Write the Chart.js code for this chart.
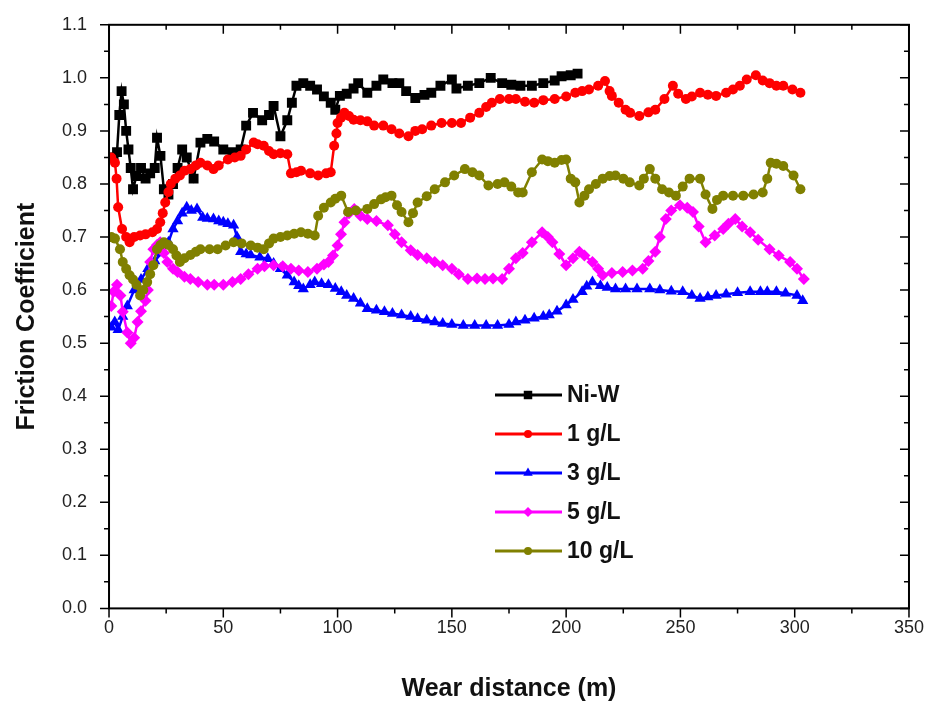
<!DOCTYPE html>
<html>
<head>
<meta charset="utf-8">
<script src="https://cdn.jsdelivr.net/npm/chart.js@4"></script>
<style>
  html, body { margin: 0; padding: 0; background: #fff; }
  #wrap { width: 925px; height: 702px; }
</style>
</head>
<body>
<div id="wrap"><canvas id="frictionChart" width="925" height="702"></canvas></div>
<script>
// series (wear distance in m, friction coefficient)
var niwX = [2,3.5,4.5,5.5,6.5,7.5,8.5,9.5,10.5,12,14,16,18,20,21,22.5,24,26,28,30,32,34,37,40,43,46,50,54,57.6,60,63,67,70,72,75,78,80,82,85,88,91,94,97,99,101,104,107,109,113,117,120,124,127,130,134,138,141,145,150,152,157,162,167,172,176,180,185,190,195,198,202,205];
var niwY = [0.85,0.86,0.93,0.975,0.95,0.90,0.865,0.83,0.79,0.815,0.83,0.81,0.82,0.83,0.887,0.853,0.79,0.78,0.80,0.83,0.865,0.85,0.81,0.878,0.885,0.88,0.865,0.86,0.865,0.91,0.934,0.92,0.93,0.947,0.89,0.92,0.953,0.985,0.99,0.985,0.978,0.965,0.953,0.94,0.966,0.97,0.98,0.99,0.972,0.985,0.997,0.99,0.99,0.975,0.962,0.968,0.972,0.985,0.997,0.98,0.985,0.99,1.0,0.99,0.987,0.985,0.985,0.99,0.995,1.003,1.005,1.008];

var g1X = [1,2.6,3.3,4,5.7,7.5,9,11,13.6,16,19,21,22.4,23.5,24.6,26,27,29,31,33,35.6,38,40,43,45.7,48,52,55,57.6,60,63.3,65,67.7,70,72,75,78,79.6,82,84,88,91.5,95,97,98.5,99.5,100,101.5,103,105,107,110,113,116,120,123.6,127,131,134,137,141,145.5,150,154,158,162,165,167.5,171,175,178,182,186,190,195,200,204,207,210,214,217,219,220,223,226,228,232,236,239,243,246.7,249,252.4,255,258.6,262,265.6,270,273,276,279,283,286,289,292,295,299,302.5];
var g1Y = [0.85,0.84,0.81,0.756,0.715,0.70,0.69,0.70,0.703,0.705,0.709,0.715,0.728,0.745,0.765,0.785,0.80,0.81,0.816,0.825,0.828,0.835,0.84,0.835,0.828,0.835,0.846,0.85,0.853,0.865,0.878,0.875,0.872,0.862,0.856,0.858,0.856,0.82,0.822,0.825,0.82,0.816,0.82,0.822,0.872,0.895,0.915,0.925,0.934,0.928,0.921,0.92,0.918,0.91,0.91,0.903,0.895,0.89,0.90,0.903,0.91,0.915,0.915,0.915,0.925,0.934,0.945,0.953,0.96,0.96,0.96,0.955,0.953,0.958,0.96,0.965,0.972,0.975,0.978,0.985,0.994,0.975,0.966,0.953,0.94,0.934,0.928,0.935,0.94,0.96,0.985,0.97,0.96,0.965,0.972,0.968,0.966,0.972,0.978,0.985,0.997,1.005,0.995,0.99,0.985,0.985,0.978,0.972];

var g3X = [1,2.5,4,6,8,11,14,17,20,23,26,28,30,32,34,36,38.5,41,43,45.7,48,50,52,54.5,56,57.6,60,62,66,69.5,72,75,78,81,83,85,88,90,93,96,99,101.6,104,107,110,113,117,120.5,124,128,132,135,139,142.5,146,150,155,160,165,170,175,178,182,186,190,192.6,196,200,203,207,209,211.5,215,218,221.6,226,231,236.6,241,246,251,255,258.6,262,265.6,270,275,280.5,285,288,292,296,301,303.5];
var g3Y = [0.53,0.54,0.525,0.55,0.57,0.60,0.62,0.64,0.655,0.67,0.69,0.715,0.73,0.745,0.756,0.75,0.753,0.737,0.735,0.734,0.73,0.728,0.725,0.722,0.70,0.672,0.668,0.666,0.662,0.659,0.65,0.64,0.628,0.615,0.608,0.602,0.61,0.615,0.612,0.61,0.603,0.597,0.59,0.584,0.575,0.565,0.562,0.559,0.556,0.553,0.55,0.546,0.543,0.54,0.537,0.535,0.533,0.533,0.533,0.533,0.535,0.54,0.543,0.547,0.55,0.553,0.56,0.572,0.582,0.597,0.607,0.615,0.608,0.605,0.602,0.602,0.602,0.602,0.60,0.598,0.597,0.59,0.584,0.587,0.59,0.592,0.595,0.597,0.597,0.597,0.597,0.594,0.59,0.58];

var g5X = [1,2,3.5,5,6,8,9.5,11,12.5,14,16,17,18,19.4,21,22.4,24,25.5,28,30,33,35.6,39,43,46,50,54,57.6,61,65,68,72,76,79.6,83,87,91,94,96,98,100,101.5,103,105,107.3,110,113,117,122,125,128,132,135,139,142.5,146,150,153,157,161,164.5,168,172,175,178,181,185,189.5,192,194,197,200,203,205.8,208,211.5,214,216,220,224.7,229,233.5,236,239,241,243.6,246,249.8,253,255.5,258,261,265,268.7,271,274,277,280.5,284,289,293,298,301,304];
var g5Y = [0.57,0.597,0.61,0.59,0.559,0.52,0.50,0.51,0.54,0.56,0.58,0.60,0.653,0.677,0.685,0.69,0.67,0.653,0.64,0.634,0.625,0.621,0.615,0.61,0.61,0.61,0.615,0.621,0.63,0.64,0.645,0.647,0.645,0.64,0.637,0.634,0.64,0.648,0.653,0.665,0.684,0.705,0.728,0.745,0.753,0.74,0.734,0.73,0.722,0.705,0.69,0.675,0.666,0.66,0.653,0.647,0.64,0.63,0.621,0.622,0.621,0.622,0.621,0.64,0.66,0.67,0.69,0.709,0.70,0.69,0.668,0.647,0.66,0.672,0.665,0.653,0.64,0.628,0.632,0.634,0.637,0.64,0.655,0.672,0.70,0.734,0.75,0.76,0.755,0.747,0.72,0.69,0.703,0.715,0.725,0.734,0.72,0.709,0.695,0.677,0.665,0.653,0.64,0.621];

var g10X = [1,2.6,4.8,6,7.5,9,10.5,12,13.6,15,16.7,18,19.4,21,22.5,24,26,28,29.5,31,33,35.6,38,40,44,47.5,51,54.5,58,62,65,67.7,70,72,75,78,81,84,87,90,91.5,94,97,99,101.6,104.6,108,113,116,119,121,123.6,126,128,131,133,135,139,142.5,147,151,155.7,159,162,166,170,173,176,179,181,185,189.5,192,195,198,200,202,204,205.8,208,210,213,216,219,221.6,225,227.8,232,234,236.6,239,242,245,248,251,254,258.6,261,264,266,268.7,273,277.5,282,286,288,289.5,292,295,299.5,302.5];
var g10Y = [0.70,0.697,0.677,0.653,0.64,0.628,0.62,0.61,0.59,0.60,0.615,0.63,0.647,0.677,0.685,0.69,0.685,0.677,0.665,0.653,0.66,0.666,0.672,0.677,0.677,0.677,0.684,0.69,0.688,0.684,0.68,0.677,0.688,0.697,0.70,0.703,0.706,0.709,0.706,0.703,0.74,0.755,0.765,0.772,0.778,0.747,0.75,0.753,0.762,0.771,0.775,0.778,0.76,0.747,0.728,0.745,0.765,0.777,0.79,0.803,0.816,0.828,0.822,0.816,0.797,0.80,0.803,0.795,0.784,0.784,0.822,0.846,0.843,0.84,0.845,0.846,0.81,0.803,0.765,0.778,0.79,0.80,0.81,0.815,0.816,0.81,0.803,0.797,0.81,0.828,0.81,0.79,0.784,0.778,0.795,0.81,0.81,0.78,0.753,0.77,0.778,0.778,0.778,0.78,0.784,0.81,0.84,0.838,0.834,0.816,0.79];

var seriesNames = ['Ni-W', '1 g/L', '3 g/L', '5 g/L', '10 g/L'];
var xTicks = [0, 50, 100, 150, 200, 250, 300, 350];
var yTicks = [0.0, 0.1, 0.2, 0.3, 0.4, 0.5, 0.6, 0.7, 0.8, 0.9, 1.0, 1.1];

function pairs(xs, ys) {
    var out = [];
    for (var i = 0; i < xs.length; i++) {
        out.push({ x: xs[i], y: ys[i] });
    }
    return out;
}

var styles = [
    { color: '#000000', shape: 'rect', radius: 7 },
    { color: '#ff0000', shape: 'circle', radius: 5 },
    { color: '#0000ff', shape: 'triangle', radius: 6.5 },
    { color: '#ff00ff', shape: 'rectRot', radius: 6 },
    { color: '#808000', shape: 'circle', radius: 5 }
];
var allData = [pairs(niwX, niwY), pairs(g1X, g1Y), pairs(g3X, g3Y), pairs(g5X, g5Y), pairs(g10X, g10Y)];

var datasets = [];
for (var i = 0; i < seriesNames.length; i++) {
    datasets.push({
        label: seriesNames[i],
        data: allData[i],
        borderColor: styles[i].color,
        backgroundColor: styles[i].color,
        borderWidth: 2.5,
        pointStyle: styles[i].shape,
        pointRadius: styles[i].radius,
        pointBorderWidth: 0,
        tension: 0,
        order: seriesNames.length - i
    });
}

// frame plus major/minor ticks, outside on left/bottom, inside on top/right
var framePlugin = {
    id: 'frame',
    afterDraw: function (chart) {
        var c = chart.ctx, a = chart.chartArea;
        var xs = chart.scales.x, ys = chart.scales.y;
        c.save();
        c.strokeStyle = '#000';
        c.lineWidth = 2;
        c.strokeRect(a.left, a.top, a.right - a.left, a.bottom - a.top);
        c.lineWidth = 1.5;
        c.beginPath();
        for (var v = 0; v <= 350; v += 25) {
            var px = xs.getPixelForValue(v);
            var len = (v % 50 === 0) ? 9 : 5;
            c.moveTo(px, a.bottom); c.lineTo(px, a.bottom + len);
            c.moveTo(px, a.top); c.lineTo(px, a.top + len);
        }
        for (var k = 0; k <= 22; k++) {
            var py = ys.getPixelForValue(k * 0.05);
            var l2 = (k % 2 === 0) ? 9 : 5;
            c.moveTo(a.left, py); c.lineTo(a.left - l2, py);
            c.moveTo(a.right, py); c.lineTo(a.right - l2, py);
        }
        c.stroke();
        c.restore();
    }
};

// legend box inside the plot, as in the figure
var legendPlugin = {
    id: 'insetLegend',
    afterDraw: function (chart) {
        var c = chart.ctx;
        var rows = [395, 434, 473, 512, 551];
        c.save();
        c.font = 'bold 23px Arial, "Liberation Sans", sans-serif';
        c.textBaseline = 'middle';
        c.textAlign = 'left';
        for (var i = 0; i < seriesNames.length; i++) {
            var st = styles[i];
            c.strokeStyle = st.color;
            c.lineWidth = 3;
            c.beginPath();
            c.moveTo(495, rows[i]);
            c.lineTo(562, rows[i]);
            c.stroke();
            c.fillStyle = st.color;
            Chart.helpers.drawPoint(c, { pointStyle: st.shape, radius: st.radius - 1, borderWidth: 0, rotation: 0 }, 528, rows[i]);
            c.fillStyle = '#111';
            c.fillText(seriesNames[i], 567, rows[i] + 1);
        }
        c.restore();
    }
};

var ctx = document.getElementById('frictionChart').getContext('2d');
var chart = new Chart(ctx, {
    type: 'line',
    data: { datasets: datasets },
    options: {
        responsive: false,
        animation: false,
        events: [],
        layout: { padding: { left: 12, right: 15, top: 16, bottom: 0 } },
        plugins: {
            legend: { display: false },
            tooltip: { enabled: false }
        },
        scales: {
            x: {
                type: 'linear',
                min: 0,
                max: 350,
                afterBuildTicks: function (scale) {
                    scale.ticks = xTicks.map(function (v) { return { value: v }; });
                },
                grid: { display: false },
                border: { display: false },
                ticks: {
                    padding: 1,
                    color: '#222',
                    font: { family: 'Arial, "Liberation Sans", sans-serif', size: 18 },
                    maxRotation: 0
                },
                title: {
                    display: true,
                    text: 'Wear distance (m)',
                    color: '#111',
                    font: { family: 'Arial, "Liberation Sans", sans-serif', size: 25, weight: 'bold', lineHeight: 1.0 },
                    padding: { top: 37, bottom: 0 }
                }
            },
            y: {
                min: 0,
                max: 1.1,
                afterBuildTicks: function (scale) {
                    scale.ticks = yTicks.map(function (v) { return { value: v }; });
                },
                grid: { display: false },
                border: { display: false },
                ticks: {
                    padding: 14,
                    color: '#222',
                    font: { family: 'Arial, "Liberation Sans", sans-serif', size: 18 },
                    callback: function (v) { return Number(v).toFixed(1); }
                },
                title: {
                    display: true,
                    text: 'Friction Coefficient',
                    color: '#111',
                    font: { family: 'Arial, "Liberation Sans", sans-serif', size: 25, weight: 'bold' },
                    padding: { top: 0, bottom: 6 }
                }
            }
        }
    },
    plugins: [framePlugin, legendPlugin]
});
</script>
</body>
</html>
